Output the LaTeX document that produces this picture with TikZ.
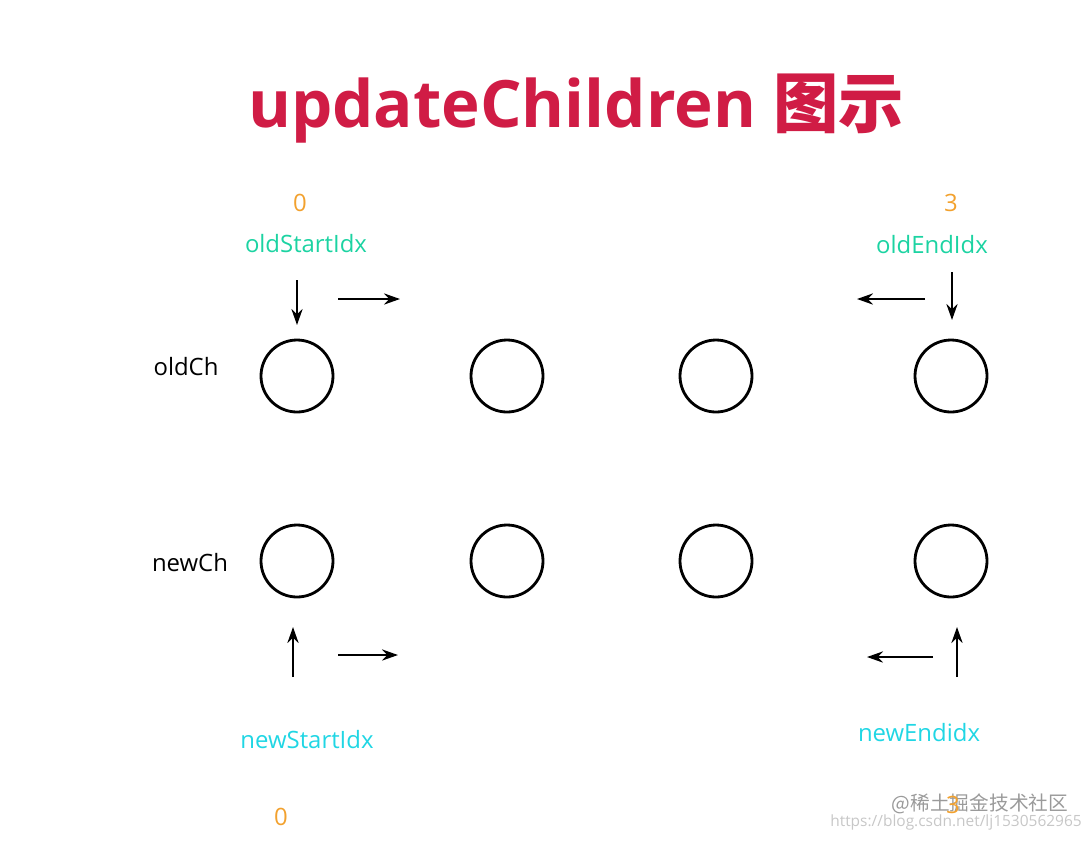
\documentclass[tikz,border=0pt]{standalone}
\usepackage{fontspec}
\setmainfont{Open Sans}
\newfontfamily\cjk{Noto Sans CJK SC}
\usepackage{tikz}
\usetikzlibrary{arrows.meta}

\definecolor{titlered}{HTML}{D01C45}
\definecolor{idxorange}{HTML}{F2A12E}
\definecolor{oldgreen}{HTML}{1CD3A2}
\definecolor{newcyan}{HTML}{20D6E4}
\definecolor{markgray}{HTML}{9A9A9A}

\tikzset{
	vnode/.style={shape=circle, draw=black, line width=2pt, minimum size=1.8cm, inner sep=0pt},
	rowlabel/.style={font=\fontsize{17}{20}\selectfont, text=black},
	idxnum/.style={font=\fontsize{17}{20}\selectfont, text=idxorange},
	oldidx/.style={font=\fontsize{17}{20}\selectfont, text=oldgreen},
	newidx/.style={font=\fontsize{17}{20}\selectfont, text=newcyan},
	move/.style={-{Stealth[length=0.4cm, width=0.28cm]}, line width=1.4pt}
}

\begin{document}
\begin{tikzpicture}
	\useasboundingbox (0, 0) rectangle (27.1, -21);

	\node[font=\fontsize{46.5}{50}\selectfont\bfseries, text=titlered] (title) at (14.4, -2.72) {updateChildren {\cjk\bfseries 图示}};

	\node[rowlabel] (oldCh) at (4.65, -9.175) {oldCh};
	\node[rowlabel] (newCh) at (4.75, -14.075) {newCh};

	\node[vnode] (o1) at (7.425, -9.4) {};
	\node[vnode] (o2) at (12.675, -9.4) {};
	\node[vnode] (o3) at (17.9, -9.4) {};
	\node[vnode] (o4) at (23.775, -9.4) {};

	\node[vnode] (n1) at (7.425, -14.025) {};
	\node[vnode] (n2) at (12.675, -14.025) {};
	\node[vnode] (n3) at (17.9, -14.025) {};
	\node[vnode] (n4) at (23.775, -14.025) {};

	\node[idxnum] (oldStart0) at (7.5, -5.075) {0};
	\node[idxnum] (oldEnd3) at (23.775, -5.075) {3};
	\node[oldidx] (oldStartIdx) at (7.65, -6.1) {oldStartIdx};
	\node[oldidx] (oldEndIdx) at (23.3, -6.125) {oldEndIdx};

	\node[newidx] (newStartIdx) at (7.675, -18.5) {newStartIdx};
	\node[newidx] (newEndidx) at (22.975, -18.325) {newEndidx};
	\node[idxnum] (newStart0) at (7.025, -20.425) {0};

	% watermark
	\node[font=\fontsize{11}{13}\selectfont, text=markgray!55] (csdn) at (23.9, -20.55) {https://blog.csdn.net/lj1530562965};
	\node[font=\fontsize{14}{16}\selectfont\cjk, text=markgray] (juejin) at (24.5, -20.1) {@稀土掘金技术社区};
	\node[idxnum] (newEnd3) at (23.825, -20.125) {3};

	% pointer arrows
	\coordinate (osT) at (7.425, -7);
	\coordinate (osB) at (7.425, -8.125);
	\coordinate (osL) at (8.45, -7.475);
	\coordinate (osR) at (10, -7.475);
	\coordinate (oeR) at (23.125, -7.475);
	\coordinate (oeL) at (21.425, -7.475);
	\coordinate (oeT) at (23.8, -6.8);
	\coordinate (oeB) at (23.8, -8);

	\coordinate (nsB) at (7.325, -16.925);
	\coordinate (nsT) at (7.325, -15.675);
	\coordinate (nsL) at (8.45, -16.375);
	\coordinate (nsR) at (9.95, -16.375);
	\coordinate (neR) at (23.325, -16.425);
	\coordinate (neL) at (21.675, -16.425);
	\coordinate (neB) at (23.925, -16.925);
	\coordinate (neT) at (23.925, -15.675);

	\path [move] (osT) edge (osB);
	\path [move] (osL) edge (osR);
	\path [move] (oeR) edge (oeL);
	\path [move] (oeT) edge (oeB);

	\path [move] (nsB) edge (nsT);
	\path [move] (nsL) edge (nsR);
	\path [move] (neR) edge (neL);
	\path [move] (neB) edge (neT);

\end{tikzpicture}
\end{document}
